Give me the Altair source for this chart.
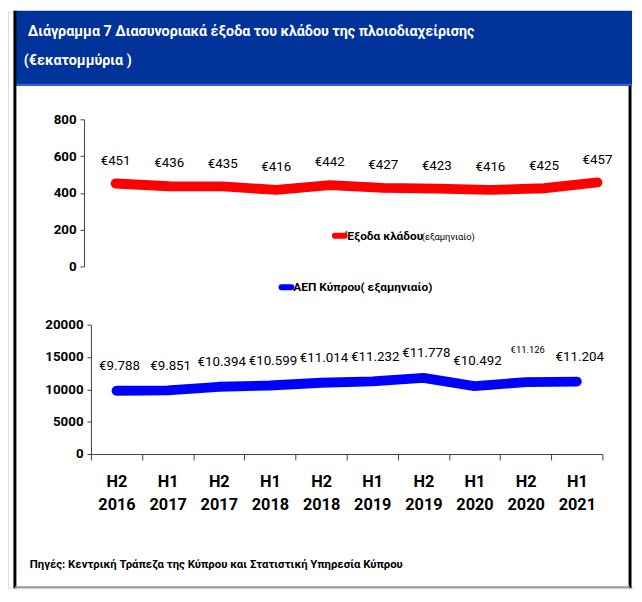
import altair as alt
import pandas as pd

# ---------------- data ----------------
periods = ["H2 2016", "H1 2017", "H2 2017", "H1 2018", "H2 2018",
           "H1 2019", "H2 2019", "H1 2020", "H2 2020", "H1 2021"]
shipping_costs = [451, 436, 435, 416, 442, 427, 423, 416, 425, 457]
gdp = [9788, 9851, 10394, 10599, 11014, 11232, 11778, 10492, 11126, 11204]
cost_ticks = [0, 200, 400, 600, 800]
gdp_ticks = [0, 5000, 10000, 15000, 20000]

title_line1 = "Διάγραμμα 7 Διασυνοριακά έξοδα του κλάδου της πλοιοδιαχείρισης"
title_line2 = "(€εκατομμύρια )"
legend_costs = "Έξοδα κλάδου"
legend_costs_note = "(εξαμηνιαίο)"
legend_gdp = "ΑΕΠ Κύπρου( εξαμηνιαίο)"
source_text = "Πηγές: Κεντρική Τράπεζα της Κύπρου και Στατιστική Υπηρεσία Κύπρου"
small_label_period = "H2 2020"


def euro(v):
    return "€" + f"{v:,}".replace(",", ".")


df = pd.DataFrame({
    "period": periods,
    "cost": shipping_costs,
    "gdp": gdp,
    "cost_label": [euro(v) for v in shipping_costs],
    "gdp_label": [euro(v) for v in gdp],
})

W, H = 634, 584
FONT = "Roboto, Liberation Sans, sans-serif"
AXIS_COLOR = "#404040"


def one(text):
    return pd.DataFrame({"t": [text]})


# ---------------- decorations ----------------
title_box = alt.Chart(one("")).mark_rect(color="#003399").encode(
    x=alt.value(7), x2=alt.value(632), y=alt.value(-1), y2=alt.value(75))
title_edge = alt.Chart(one("")).mark_rule(color="#2f5fe0", strokeWidth=2).encode(
    x=alt.value(7), x2=alt.value(632), y=alt.value(74))
left_border = alt.Chart(one("")).mark_rule(color="#000000", strokeWidth=3).encode(
    x=alt.value(7), y=alt.value(-1), y2=alt.value(H))
right_border = alt.Chart(one("")).mark_rule(color="#000000", strokeWidth=3).encode(
    x=alt.value(630), y=alt.value(75), y2=alt.value(H))
bottom_border = alt.Chart(one("")).mark_rule(color="#9a9a9a", strokeWidth=2).encode(
    x=alt.value(7), x2=alt.value(630), y=alt.value(H - 1))

t1 = alt.Chart(one(title_line1)).mark_text(
    align="left", baseline="middle", color="white", font=FONT,
    fontSize=14.5, fontWeight="bold").encode(text="t:N", x=alt.value(20), y=alt.value(21))
t2 = alt.Chart(one(title_line2)).mark_text(
    align="left", baseline="middle", color="white", font=FONT,
    fontSize=14.5, fontWeight="bold").encode(text="t:N", x=alt.value(16), y=alt.value(50))

leg1_sw = alt.Chart(one("")).mark_rule(color="#ff0000", strokeWidth=6, strokeCap="round").encode(
    x=alt.value(331), x2=alt.value(341), y=alt.value(227))
leg1_t = alt.Chart(one(legend_costs)).mark_text(
    align="left", baseline="middle", font=FONT, fontSize=12, fontWeight="bold",
    color="#000000").encode(text="t:N", x=alt.value(343), y=alt.value(227))
leg1_n = alt.Chart(one(legend_costs_note)).mark_text(
    align="left", baseline="middle", font=FONT, fontSize=9.5,
    color="#000000").encode(text="t:N", x=alt.value(419), y=alt.value(228))

leg2_sw = alt.Chart(one("")).mark_rule(color="#0000ff", strokeWidth=6, strokeCap="round").encode(
    x=alt.value(277), x2=alt.value(287), y=alt.value(279))
leg2_t = alt.Chart(one(legend_gdp)).mark_text(
    align="left", baseline="middle", font=FONT, fontSize=12, fontWeight="bold",
    color="#000000").encode(text="t:N", x=alt.value(289), y=alt.value(279))

src = alt.Chart(one(source_text)).mark_text(
    align="left", baseline="middle", font=FONT, fontSize=11.5, fontWeight="bold",
    color="#000000").encode(text="t:N", x=alt.value(22), y=alt.value(560))

# ---------------- top chart: shipping management costs ----------------
x_top = alt.X("period:N", sort=periods,
              scale=alt.Scale(type="point", domain=periods, range=[109, 597], padding=0),
              axis=None)
y_top = alt.Y("cost:Q",
              scale=alt.Scale(domain=[0, 800], range=[258, 109], nice=False, zero=True),
              axis=alt.Axis(orient="left", offset=-77, values=cost_ticks, title=None,
                            format="d", grid=False, tickSize=4, domainColor=AXIS_COLOR,
                            tickColor=AXIS_COLOR, labelFont=FONT, labelFontSize=13.5,
                            labelFontWeight="bold", labelColor="#000000",
                            labelPadding=4))

top_line = alt.Chart(df).mark_line(
    color="#ff0000", strokeWidth=10, strokeCap="round", strokeJoin="round"
).encode(x=x_top, y=y_top)
top_text = alt.Chart(df).mark_text(
    font=FONT, fontSize=13.5, color="#000000", dy=-23, baseline="middle"
).encode(x=x_top, y=y_top, text="cost_label:N")
top = alt.layer(top_line, top_text)

# ---------------- bottom chart: GDP ----------------
x_bot = alt.X("period:N", sort=periods, bandPosition=0.5,
              scale=alt.Scale(type="band", domain=periods, range=[84, 602],
                              paddingInner=0, paddingOuter=0),
              axis=alt.Axis(orient="bottom", offset=-(H - 448), title=None, grid=False,
                            tickBand="extent", tickSize=6, labelAngle=0,
                            labelExpr="split(datum.label, ' ')",
                            labelFont=FONT, labelFontSize=16.5, labelFontWeight="bold",
                            labelLineHeight=23, labelPadding=14, labelColor="#000000",
                            domainColor=AXIS_COLOR, tickColor=AXIS_COLOR))
y_bot = alt.Y("gdp:Q",
              scale=alt.Scale(domain=[0, 20000], range=[448, 317], nice=False, zero=True),
              axis=alt.Axis(orient="left", offset=-84, values=gdp_ticks, title=None,
                            format="d", grid=False, tickSize=4, domainColor=AXIS_COLOR,
                            tickColor=AXIS_COLOR, labelFont=FONT, labelFontSize=13.5,
                            labelFontWeight="bold", labelColor="#000000",
                            labelPadding=4))

bot_line = alt.Chart(df).mark_line(
    color="#0000ff", strokeWidth=10, strokeCap="round", strokeJoin="round"
).encode(x=x_bot, y=y_bot)
bot_text = alt.Chart(df).transform_filter(
    alt.datum.period != small_label_period
).mark_text(
    font=FONT, fontSize=13.5, color="#000000", baseline="middle", dx=3, dy=-25
).encode(x=x_bot, y=y_bot, text="gdp_label:N")
bot_text_small = alt.Chart(df).transform_filter(
    alt.datum.period == small_label_period
).mark_text(
    font=FONT, fontSize=9.5, color="#000000", baseline="middle", dx=2, dy=-32
).encode(x=x_bot, y=y_bot, text="gdp_label:N")
bottom = alt.layer(bot_line, bot_text, bot_text_small)

chart = alt.layer(
    title_box, title_edge, left_border, right_border, bottom_border,
    t1, t2, leg1_sw, leg1_t, leg1_n, leg2_sw, leg2_t, src,
    top, bottom,
).resolve_scale(x="independent", y="independent").properties(
    width=W, height=H,
    autosize=alt.AutoSizeParams(type="none"),
    padding=0,
).configure_view(stroke=None).configure(background="white")

chart.save("out.html", embed_options={"renderer": "svg", "actions": False})
